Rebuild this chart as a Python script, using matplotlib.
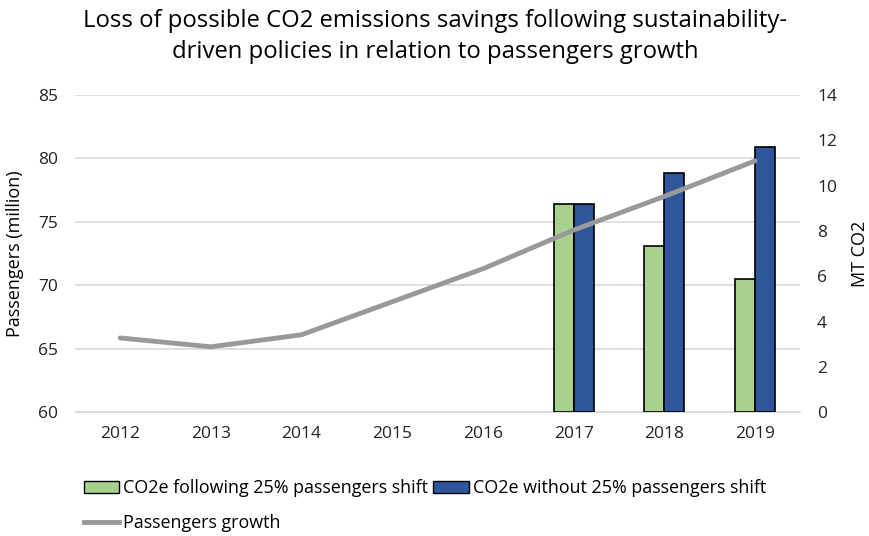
import matplotlib.pyplot as plt
import numpy as np
from matplotlib.patches import Patch
from matplotlib.lines import Line2D

plt.rcParams['font.family'] = ['Open Sans', 'DejaVu Sans']

years = ['2012', '2013', '2014', '2015', '2016', '2017', '2018', '2019']
passengers = [65.85, 65.15, 66.1, 68.7, 71.3, 74.35, 77.0, 79.8]
bar_years = ['2017', '2018', '2019']
co2_shift = [9.2, 7.35, 5.87]
co2_no_shift = [9.2, 10.55, 11.72]

green = '#A9D18E'
blue = '#2F559A'
grey = '#999999'

fig = plt.figure(figsize=(8.7, 5.36), dpi=100)
ax = fig.add_axes([0.086, 0.231, 0.834, 0.592])
ax2 = ax.twinx()

x = np.arange(len(years))
bx = np.array([years.index(y) for y in bar_years])
w = 0.22
ax2.bar(bx - w / 2, co2_shift, w, color=green, edgecolor='black', linewidth=1.2, zorder=3)
ax2.bar(bx + w / 2, co2_no_shift, w, color=blue, edgecolor='black', linewidth=1.2, zorder=3)
ax2.plot(x, passengers, color=grey, linewidth=3.5, zorder=4,
         transform=ax.transData, solid_capstyle='round')

ax.set_xlim(-0.5, len(years) - 0.5)
ax.set_ylim(60, 85)
ax.set_yticks(range(60, 86, 5))
ax2.set_ylim(0, 14)
ax2.set_yticks(range(0, 15, 2))
ax.set_xticks(x)
ax.set_xticklabels(years)

ax.grid(axis='y', color='#D9D9D9', linewidth=1.2)
ax.set_axisbelow(True)
for a in (ax, ax2):
    for s in a.spines.values():
        s.set_visible(False)
    a.tick_params(length=0, labelsize=12.5, colors='#222222')
ax.spines['bottom'].set_visible(True)
ax.spines['bottom'].set_color('#D9D9D9')
ax.tick_params(axis='x', pad=10)
ax.tick_params(axis='y', pad=12)
ax2.tick_params(axis='y', pad=12)

ax.set_ylabel('Passengers (million)', fontsize=13, labelpad=10)
ax2.set_ylabel('MT CO2', fontsize=13, labelpad=10)

fig.suptitle('Loss of possible CO2 emissions savings following sustainability-\n'
             'driven policies in relation to passengers growth',
             fontsize=17.2, y=0.984, va='top', linespacing=1.4)

handles = [Patch(facecolor=green, edgecolor='black'),
           Line2D([0], [0], color=grey, linewidth=3.5),
           Patch(facecolor=blue, edgecolor='black')]
labels = ['CO2e following 25% passengers shift', 'Passengers growth',
          'CO2e without 25% passengers shift']
fig.legend(handles, labels, ncol=2, loc='upper left', bbox_to_anchor=(0.096, 0.106),
           frameon=False, fontsize=12.9, handlelength=2.0, handletextpad=0.2,
           columnspacing=0.3, labelspacing=0.95, borderaxespad=0, borderpad=0)

fig.savefig('out.png', dpi=100)
